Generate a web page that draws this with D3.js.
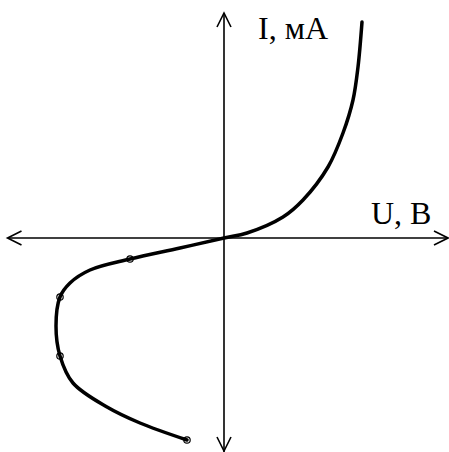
<!DOCTYPE html>
<html>
<head>
<meta charset="utf-8">
<script src="https://cdn.jsdelivr.net/npm/d3@7"></script>
<style>
  body { margin: 0; background: #fff; }
  svg text { font-family: "Liberation Serif", "Times New Roman", serif; }
</style>
</head>
<body>
<div class="chart"></div>
<script>
/* I-V curve, U in arbitrary units, I in arbitrary units */
var curveU = [-0.925, -2.1, -2.925, -3.775, -4.1, -4.2, -4.1, -3.85, -3.35, -2.35, -1.1, 0, 0.575, 1.475, 1.975, 2.6, 2.975, 3.225, 3.35, 3.45];
var curveI = [-5.05, -4.625, -4.225, -3.625, -2.95, -2.2, -1.475, -1.125, -0.8, -0.525, -0.25, 0, 0.125, 0.525, 0.95, 1.775, 2.625, 3.45, 4.275, 5.4];

/* measured points (open circles) */
var markU = [-2.35, -4.1, -4.1, -0.925];
var markI = [-0.525, -1.475, -2.95, -5.05];

var axisLabels = ["U, B", "I, мА"];

var svg = d3.select(".chart")
    .append("svg")
      .attr("width", 449)
      .attr("height", 452);

var x = d3.scaleLinear().domain([-5.4, 5.6]).range([8, 448]);
var y = d3.scaleLinear().domain([-5.35, 5.625]).range([452, 13]);

var gAxes = svg.append("g")
    .attr("stroke", "#000")
    .attr("stroke-width", 1.6)
    .attr("fill", "none");

/* horizontal axis with arrows at both ends */
gAxes.append("line")
    .attr("x1", x(-5.4)).attr("y1", y(0))
    .attr("x2", x(5.6)).attr("y2", y(0));
/* vertical axis */
gAxes.append("line")
    .attr("x1", x(0)).attr("y1", y(5.625))
    .attr("x2", x(0)).attr("y2", y(-5.35));

function arrow(tx, ty, dx, dy) {
  // open chevron, dx/dy = direction pointing back from the tip
  var len = 14, half = 7;
  var px = -dy, py = dx;
  gAxes.append("path")
      .attr("d", "M" + (tx + dx * len + px * half) + "," + (ty + dy * len + py * half)
        + "L" + tx + "," + ty
        + "L" + (tx + dx * len - px * half) + "," + (ty + dy * len - py * half));
}
arrow(x(5.6), y(0), -1, 0);
arrow(x(-5.4) - 0.5, y(0), 1, 0);
arrow(x(0), y(5.625), 0, 1);
arrow(x(0), y(-5.35) - 1, 0, -1);

var pts = curveU.map(function(u, i) { return [u, curveI[i]]; });

var line = d3.line()
    .x(function(d) { return x(d[0]); })
    .y(function(d) { return y(d[1]); })
    .curve(d3.curveCatmullRom.alpha(0.5));

svg.append("path")
    .datum(pts)
    .attr("d", line)
    .attr("fill", "none")
    .attr("stroke", "#000")
    .attr("stroke-width", 3.5)
    .attr("stroke-linecap", "round");

svg.selectAll("circle.mark")
    .data(markU)
    .enter()
    .append("circle")
    .attr("class", "mark")
    .attr("cx", function(d) { return x(d); })
    .attr("cy", function(d, i) { return y(markI[i]); })
    .attr("r", 3.2)
    .attr("fill", "none")
    .attr("stroke", "#000")
    .attr("stroke-width", 1.2);

svg.append("text")
    .attr("x", 371)
    .attr("y", 224)
    .attr("font-size", 32)
    .text(axisLabels[0]);

svg.append("text")
    .attr("x", 258)
    .attr("y", 39)
    .attr("font-size", 32)
    .text(axisLabels[1]);
</script>
</body>
</html>
